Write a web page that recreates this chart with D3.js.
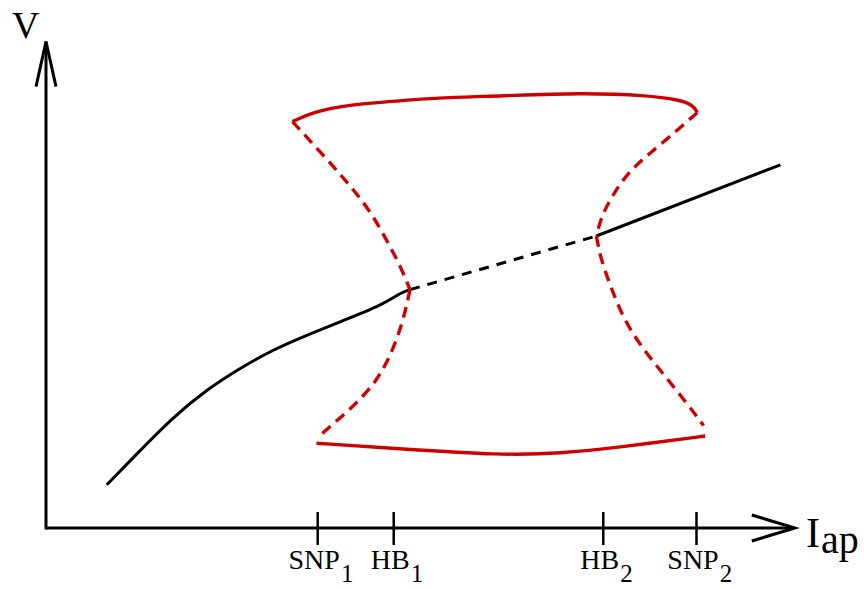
<!DOCTYPE html>
<html lang="en">
<head>
<meta charset="utf-8">
<title>Bifurcation diagram</title>
<script src="https://d3js.org/d3.v7.min.js"></script>
<style>
  body { margin: 0; background: #fff; }
  text { font-family: "Liberation Serif", "Times New Roman", serif; fill: #000; }
</style>
</head>
<body>
<script>
// chart size
const W = 864, H = 589;

// data (I_ap, V) in arbitrary units
const blackStable1 = [[0.76,0.54],[1.09,0.88],[1.59,1.39],[2.01,1.73],[2.43,2.00],[2.84,2.23],[3.26,2.41],
                      [3.68,2.58],[4.21,2.79],[4.43,2.94],[4.55,2.98]];
const blackUnstable = [[4.55,2.98],[6.88,3.65]];
const blackStable2 = [[6.88,3.65],[9.18,4.54]];

const redUpper = [[3.08,5.08],[3.34,5.20],[3.76,5.29],[4.43,5.34],[4.93,5.38],[5.68,5.40],[6.68,5.44],
                  [7.51,5.41],[7.93,5.35],[8.07,5.29],[8.12,5.23],[8.14,5.19]];
const redLower = [[3.38,1.06],[4.43,0.99],[5.68,0.91],[6.43,0.93],[7.18,1.01],[8.24,1.15]];
// unstable periodic branches, each split at its Hopf point
const redLeftTop = [[3.08,5.08],[3.43,4.70],[3.74,4.35],[4.03,4.00],[4.26,3.60],[4.45,3.23],[4.55,2.98]];
const redLeftBottom = [[4.55,2.98],[4.46,2.56],[4.30,2.14],[4.14,1.85],[3.89,1.56],[3.46,1.19],[3.41,1.14]];
const redRightTop = [[8.14,5.19],[7.68,4.79],[7.30,4.48],[7.08,4.16],[6.94,3.89],[6.88,3.65]];
const redRightBottom = [[6.88,3.65],[6.93,3.38],[7.05,3.04],[7.21,2.63],[7.45,2.25],[7.73,1.91],[8.01,1.56],[8.22,1.28]];

const tickValues = [3.39, 4.34, 6.96, 8.125];
const tickNames = ["SNP", "HB", "HB", "SNP"];
const tickSubs = ["1", "1", "2", "2"];

const xMax = 9.36, yMax = 6.08;

const x = d3.scaleLinear().domain([0, 10]).range([46, 846]);
const y = d3.scaleLinear().domain([0, 6]).range([528, 48]);

const svg = d3.select("body").append("svg")
    .attr("width", W)
    .attr("height", H);

const red = "#cc0000";

const line = d3.line()
    .x(d => x(d[0]))
    .y(d => y(d[1]))
    .curve(d3.curveBasis);

function draw(data, color, dash) {
  svg.append("path")
     .datum(data)
     .attr("d", line)
     .attr("fill", "none")
     .attr("stroke", color)
     .attr("stroke-width", color == red ? 3.4 : 3)
     .attr("stroke-dasharray", dash ? dash : null);
}

// axes
svg.append("line")
   .attr("x1", x(0)).attr("y1", y(0))
   .attr("x2", x(xMax)).attr("y2", y(0))
   .attr("stroke", "#000").attr("stroke-width", 3);
svg.append("line")
   .attr("x1", x(0)).attr("y1", y(0) + 1.5)
   .attr("x2", x(0)).attr("y2", y(yMax))
   .attr("stroke", "#000").attr("stroke-width", 3);

// arrow heads (open chevrons)
svg.append("path")
   .attr("d", "M" + (x(xMax) - 43) + "," + (y(0) - 13) + "L" + x(xMax) + "," + y(0) + "L" + (x(xMax) - 43) + "," + (y(0) + 13))
   .attr("fill", "none").attr("stroke", "#000").attr("stroke-width", 3);
svg.append("path")
   .attr("d", "M" + (x(0) - 10) + "," + (y(yMax) + 45) + "L" + x(0) + "," + y(yMax) + "L" + (x(0) + 10) + "," + (y(yMax) + 45))
   .attr("fill", "none").attr("stroke", "#000").attr("stroke-width", 3);

// ticks through the axis
const axis = svg.append("g")
    .attr("transform", "translate(0," + (y(0) - 16) + ")")
    .call(d3.axisBottom(x).tickValues(tickValues).tickSize(33).tickSizeOuter(0).tickFormat(""));
axis.select(".domain").remove();
axis.selectAll(".tick line").attr("stroke", "#000").attr("stroke-width", 2.5);

// tick labels with subscripts
tickValues.forEach(function(v, i) {
  const t = svg.append("text")
     .attr("x", x(v) - 3)
     .attr("y", 569)
     .attr("text-anchor", "middle")
     .style("font-size", "28px")
     .text(tickNames[i]);
  const len = t.node().getComputedTextLength();
  svg.append("text")
     .attr("x", x(v) - 3 + len / 2 + 1)
     .attr("y", 582)
     .style("font-size", "25px")
     .text(tickSubs[i]);
});

// axis titles
svg.append("text").attr("x", 12).attr("y", 38).style("font-size", "38px").text("V");
const it = svg.append("text").attr("x", 806).attr("y", 547).style("font-size", "42px").text("I");
svg.append("text").attr("x", 806 + it.node().getComputedTextLength() + 1).attr("y", 553)
   .style("font-size", "40px").text("ap");

// curves
draw(blackStable1, "#000");
draw(blackUnstable, "#000", "10,8");
draw(blackStable2, "#000");
draw(redUpper, red);
draw(redLower, red);
draw(redLeftTop, red, "11,7");
draw(redLeftBottom, red, "11,7");
draw(redRightTop, red, "11,7");
draw(redRightBottom, red, "11,7");
</script>
</body>
</html>
